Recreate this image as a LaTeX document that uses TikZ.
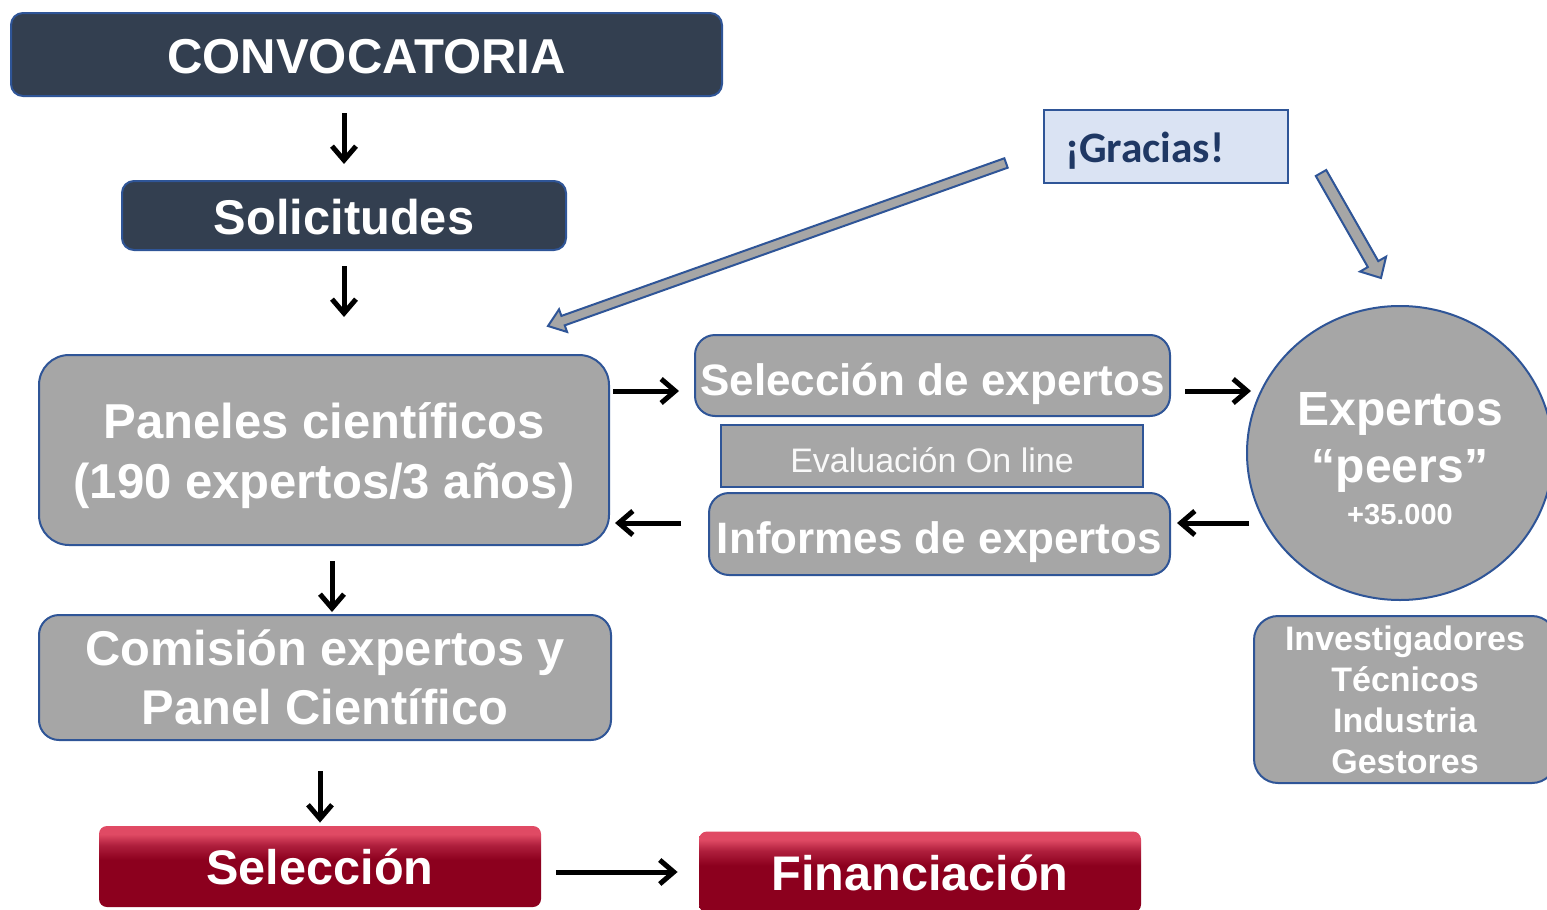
\documentclass[tikz,border=0pt]{standalone}
\usepackage{fontspec}
\setmainfont{Liberation Sans}
\newfontfamily\carlito{Carlito}
\usetikzlibrary{arrows.meta,calc,shapes.geometric}

\definecolor{azuloscuro}{HTML}{333F50}
\definecolor{borde}{HTML}{2F5597}
\definecolor{gris}{HTML}{A6A6A6}
\definecolor{celeste}{HTML}{DAE3F3}
\definecolor{marino}{HTML}{1F3864}
\definecolor{rojoclaro}{HTML}{E04A64}
\definecolor{rojomed}{HTML}{AE1E3C}
\definecolor{rojooscuro}{HTML}{8C001E}
\pgfdeclareverticalshading{boton}{100bp}{color(0bp)=(rojooscuro); color(54bp)=(rojooscuro); color(63bp)=(rojomed); color(70bp)=(rojoclaro); color(100bp)=(rojoclaro)}

\tikzset{
  caja/.style={draw=borde, line width=1pt, fill=gris, text=white, rounded corners=10pt, align=center, inner sep=0pt},
  oscura/.style={caja, fill=azuloscuro, rounded corners=6pt},
  texto/.style={text=white, align=center, inner sep=0pt},
  roja/.style={shading=boton, text=white, font=\bfseries\fontsize{24.3}{29}\selectfont, rounded corners=4pt, minimum width=221pt, minimum height=40.5pt, inner sep=0pt},
  flecha/.style={-{Straight Barb[length=7pt,width=12pt]}, line width=2.5pt},
  gruesa/.style={draw=borde, line width=1pt, fill=gris, line join=miter}
}

\begin{document}
\begin{tikzpicture}[x=0.5pt,y=-0.5pt]
  \clip (0,0) rectangle (1547,910);
  \node[oscura, minimum width=355.5pt, minimum height=41.5pt, text height=19pt, text depth=0pt, font=\bfseries\fontsize{24.5}{29}\selectfont] (conv) at (366.5,54.5) {CONVOCATORIA};
  \node[oscura, minimum width=222pt, minimum height=34.5pt, text height=19pt, text depth=0pt, font=\bfseries\fontsize{24.4}{29}\selectfont] (soli) at (344,215.5) {Solicitudes};
  \node[caja, rounded corners=15pt, minimum width=285pt, minimum height=95pt,
    label={[texto, yshift=-3pt, font=\bfseries\fontsize{24.5}{30}\selectfont]center:{Paneles científicos\\(190 expertos/3 años)}}] (paneles) at (324,450) {};
  \node[caja, minimum width=286pt, minimum height=62.5pt, font=\bfseries\fontsize{24.4}{29.5}\selectfont] (comision) at (325,677.5) {Comisión expertos y\\Panel Científico};
  \node[caja, minimum width=237.5pt, minimum height=40.5pt, text height=19.5pt, text depth=0pt, font=\bfseries\fontsize{22}{26}\selectfont] (selexp) at (932.5,375.5) {Selección de expertos};
  \node[caja, rounded corners=0pt, minimum width=211pt, minimum height=31pt, text height=16pt, text depth=0pt, font=\fontsize{17}{20}\selectfont, text=white!95!gray] (evalon) at (932,456) {Evaluación On line};
  \node[caja, minimum width=230.5pt, minimum height=41pt, text height=19pt, text depth=0pt, font=\bfseries\fontsize{22}{26}\selectfont] (infexp) at (939.5,534) {Informes de expertos};
  \node[caja, ellipse, minimum width=153pt, minimum height=147pt,
    label={[texto, yshift=-3pt, font=\bfseries\fontsize{24}{28.5}\selectfont]center:{Expertos\\“peers”\\[-7.5pt]{\fontsize{14.5}{17}\selectfont +35.000}}}] (peers) at (1400,453) {};
  \node[caja, rounded corners=12pt, minimum width=151pt, minimum height=83.5pt, font=\bfseries\fontsize{17}{20.5}\selectfont] (invest) at (1405,699.5) {Investigadores\\Técnicos\\Industria\\Gestores};
  \node[roja, text height=18pt, text depth=0pt] (sel) at (320,866.5) {Selección};
  \node[roja, text height=18pt, text depth=0pt] (fin) at (920,872) {Financiación};
  \node[draw=borde, line width=1pt, fill=celeste, text=marino, font=\carlito\bfseries\fontsize{21.7}{26}\selectfont, text width=101pt, inner xsep=10.5pt, inner ysep=0pt, minimum height=36.5pt, text height=16pt, text depth=0pt, align=left] (gracias) at (1166,146.5) {¡Gracias!};

  \draw[flecha, shorten <=8pt, shorten >=8pt] (soli.north |- conv.south) -- (soli.north);
  \draw[flecha, shorten <=7.5pt, shorten >=18.5pt] (soli.south) -- (soli.south |- paneles.north);
  \draw[flecha, shorten <=7.5pt, shorten >=1pt] ([xshift=4pt]paneles.south) -- ([xshift=4pt]paneles.south |- comision.north);
  \draw[flecha, shorten <=15pt, shorten >=1.5pt] (sel.north |- comision.south) -- (sel.north);
  \draw[flecha, shorten <=7.5pt, shorten >=10.5pt] (sel.east |- fin.west) -- (fin.west);
  \draw[flecha, shorten <=1.5pt, shorten >=7.5pt] ([yshift=29.5pt]paneles.east) -- ([yshift=29.5pt]paneles.east -| selexp.west);
  \draw[flecha, shorten <=13.5pt, shorten >=2.5pt] ([yshift=5.5pt]infexp.west) -- ([yshift=5.5pt]infexp.west -| paneles.east);
  \draw[flecha, shorten <=7pt, shorten >=-2.5pt] ([yshift=-7.75pt]selexp.east) -- ([yshift=-7.75pt]selexp.east -| peers.west);
  \draw[flecha, shorten <=-1.5pt, shorten >=3pt] ([yshift=5.5pt]infexp.east -| peers.west) -- ([yshift=5.5pt]infexp.east);

  \foreach \xa/\ya/\xb/\yb/\w/\h/\l in {1006/163/548/326/2.5/6/8, 1321/173/1381/278/3/7.5/8} {
    \coordinate (cola) at (\xa,\ya);
    \coordinate (punta) at (\xb,\yb);
    \coordinate (base) at ($(punta)!\l pt!(cola)$);
    \draw[gruesa] ($(cola)!\w pt!90:(punta)$) -- ($(base)!\w pt!90:(punta)$) -- ($(base)!\h pt!90:(punta)$) -- (punta)
      -- ($(base)!\h pt!-90:(punta)$) -- ($(base)!\w pt!-90:(punta)$) -- ($(cola)!\w pt!-90:(punta)$) -- cycle;
  }
\end{tikzpicture}
\end{document}
